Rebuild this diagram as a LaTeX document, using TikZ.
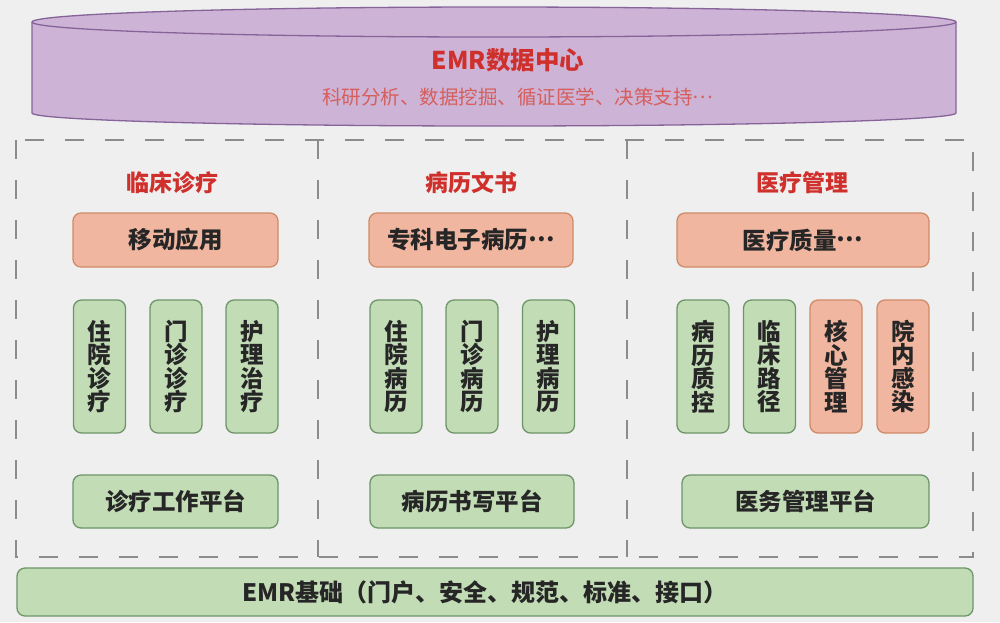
\documentclass[tikz,border=0pt]{standalone}
\usepackage{fontspec}
\setmainfont{Noto Sans CJK SC}
\definecolor{bgc}{HTML}{EFEFEF}
\definecolor{purfill}{HTML}{CDB3D5}
\definecolor{purline}{HTML}{86649A}
\definecolor{titred}{HTML}{D0302C}
\definecolor{subred}{HTML}{D65E5C}
\definecolor{orfill}{HTML}{F1B6A0}
\definecolor{orline}{HTML}{CF8A68}
\definecolor{grfill}{HTML}{C2DCB6}
\definecolor{grline}{HTML}{6E9568}
\definecolor{txt}{HTML}{262626}
\definecolor{dashc}{HTML}{8C8C8C}
\newcommand{\middots}{\raisebox{0.3em}{…}}
\tikzset{
  basebox/.style={rounded corners=8pt, line width=1.3pt, inner sep=0pt, text=txt,
    font=\fontsize{23.5}{23.5}\selectfont\bfseries, align=center},
  orbox/.style={basebox, fill=orfill, draw=orline},
  grbox/.style={basebox, fill=grfill, draw=grline},
  vgr/.style={grbox, minimum width=52pt, minimum height=133pt},
  vor/.style={orbox, minimum width=52pt, minimum height=133pt},
  sectitle/.style={text=titred, font=\fontsize{23}{24}\selectfont\bfseries},
  sepline/.style={draw=dashc, line width=1.6pt, dash pattern=on 19pt off 21pt}
}
\begin{document}
\begin{tikzpicture}[x=1pt,y=-1pt]
\fill[bgc] (0,0) rectangle (1000,622);
\useasboundingbox (0,0) rectangle (1000,622);
% cylinder
\path[fill=purfill, draw=purline, line width=1.3pt]
  (32,22) -- (32,113) arc[start angle=180, end angle=0, x radius=462, y radius=13]
  -- (956,22) arc[start angle=0, end angle=-180, x radius=462, y radius=15] -- cycle;
\draw[purline, line width=1.3pt] (32,22) arc[start angle=180, end angle=0, x radius=462, y radius=15];
\node[text=titred, font=\fontsize{24.5}{26}\selectfont\bfseries] (dctitle) at (508,60) {EMR数据中心};
\node[text=subred, font=\fontsize{19.5}{21}\selectfont] (dcsub) at (518,97) {科研分析、数据挖掘、循证医学、决策支持\middots};
% dashed frame
\draw[sepline] (16,140) rectangle (973,557);
\draw[sepline] (318,140) -- (318,557);
\draw[sepline] (627,140) -- (627,557);
% section titles
\node[sectitle] (t1) at (172,183) {临床诊疗};
\node[sectitle] (t2) at (471,183) {病历文书};
\node[sectitle] (t3) at (802,183) {医疗管理};
% orange top boxes
\node[orbox, minimum width=205pt, minimum height=54pt] (a1) at (175.5,240) {移动应用};
\node[orbox, minimum width=204pt, minimum height=54pt] (a2) at (471,240) {专科电子病历\middots};
\node[orbox, minimum width=252pt, minimum height=54pt] (a3) at (803,240) {医疗质量\middots};
% vertical boxes
\node[vgr] (l1) at (99.5,366.5) {住\\院\\诊\\疗};
\node[vgr] (l2) at (176,366.5) {门\\诊\\诊\\疗};
\node[vgr] (l3) at (252,366.5) {护\\理\\治\\疗};
\node[vgr] (m1) at (396,366.5) {住\\院\\病\\历};
\node[vgr] (m2) at (472,366.5) {门\\诊\\病\\历};
\node[vgr] (m3) at (548.5,366.5) {护\\理\\病\\历};
\node[vgr] (r1) at (703,366.5) {病\\历\\质\\控};
\node[vgr] (r2) at (769.5,366.5) {临\\床\\路\\径};
\node[vor] (r3) at (836,366.5) {核\\心\\管\\理};
\node[vor] (r4) at (903,366.5) {院\\内\\感\\染};
% platforms
\node[grbox, minimum width=205pt, minimum height=53pt] (p1) at (175.5,501.5) {诊疗工作平台};
\node[grbox, minimum width=204pt, minimum height=53pt] (p2) at (472,501.5) {病历书写平台};
\node[grbox, minimum width=247pt, minimum height=53pt] (p3) at (805.5,501.5) {医务管理平台};
% base
\node[grbox, minimum width=956pt, minimum height=48pt] (base) at (495,592) {};
\node[text=txt, font=\fontsize{24}{24}\selectfont\bfseries] (basetxt) at (485,592) {EMR基础（门户、安全、规范、标准、接口）};
\end{tikzpicture}
\end{document}
